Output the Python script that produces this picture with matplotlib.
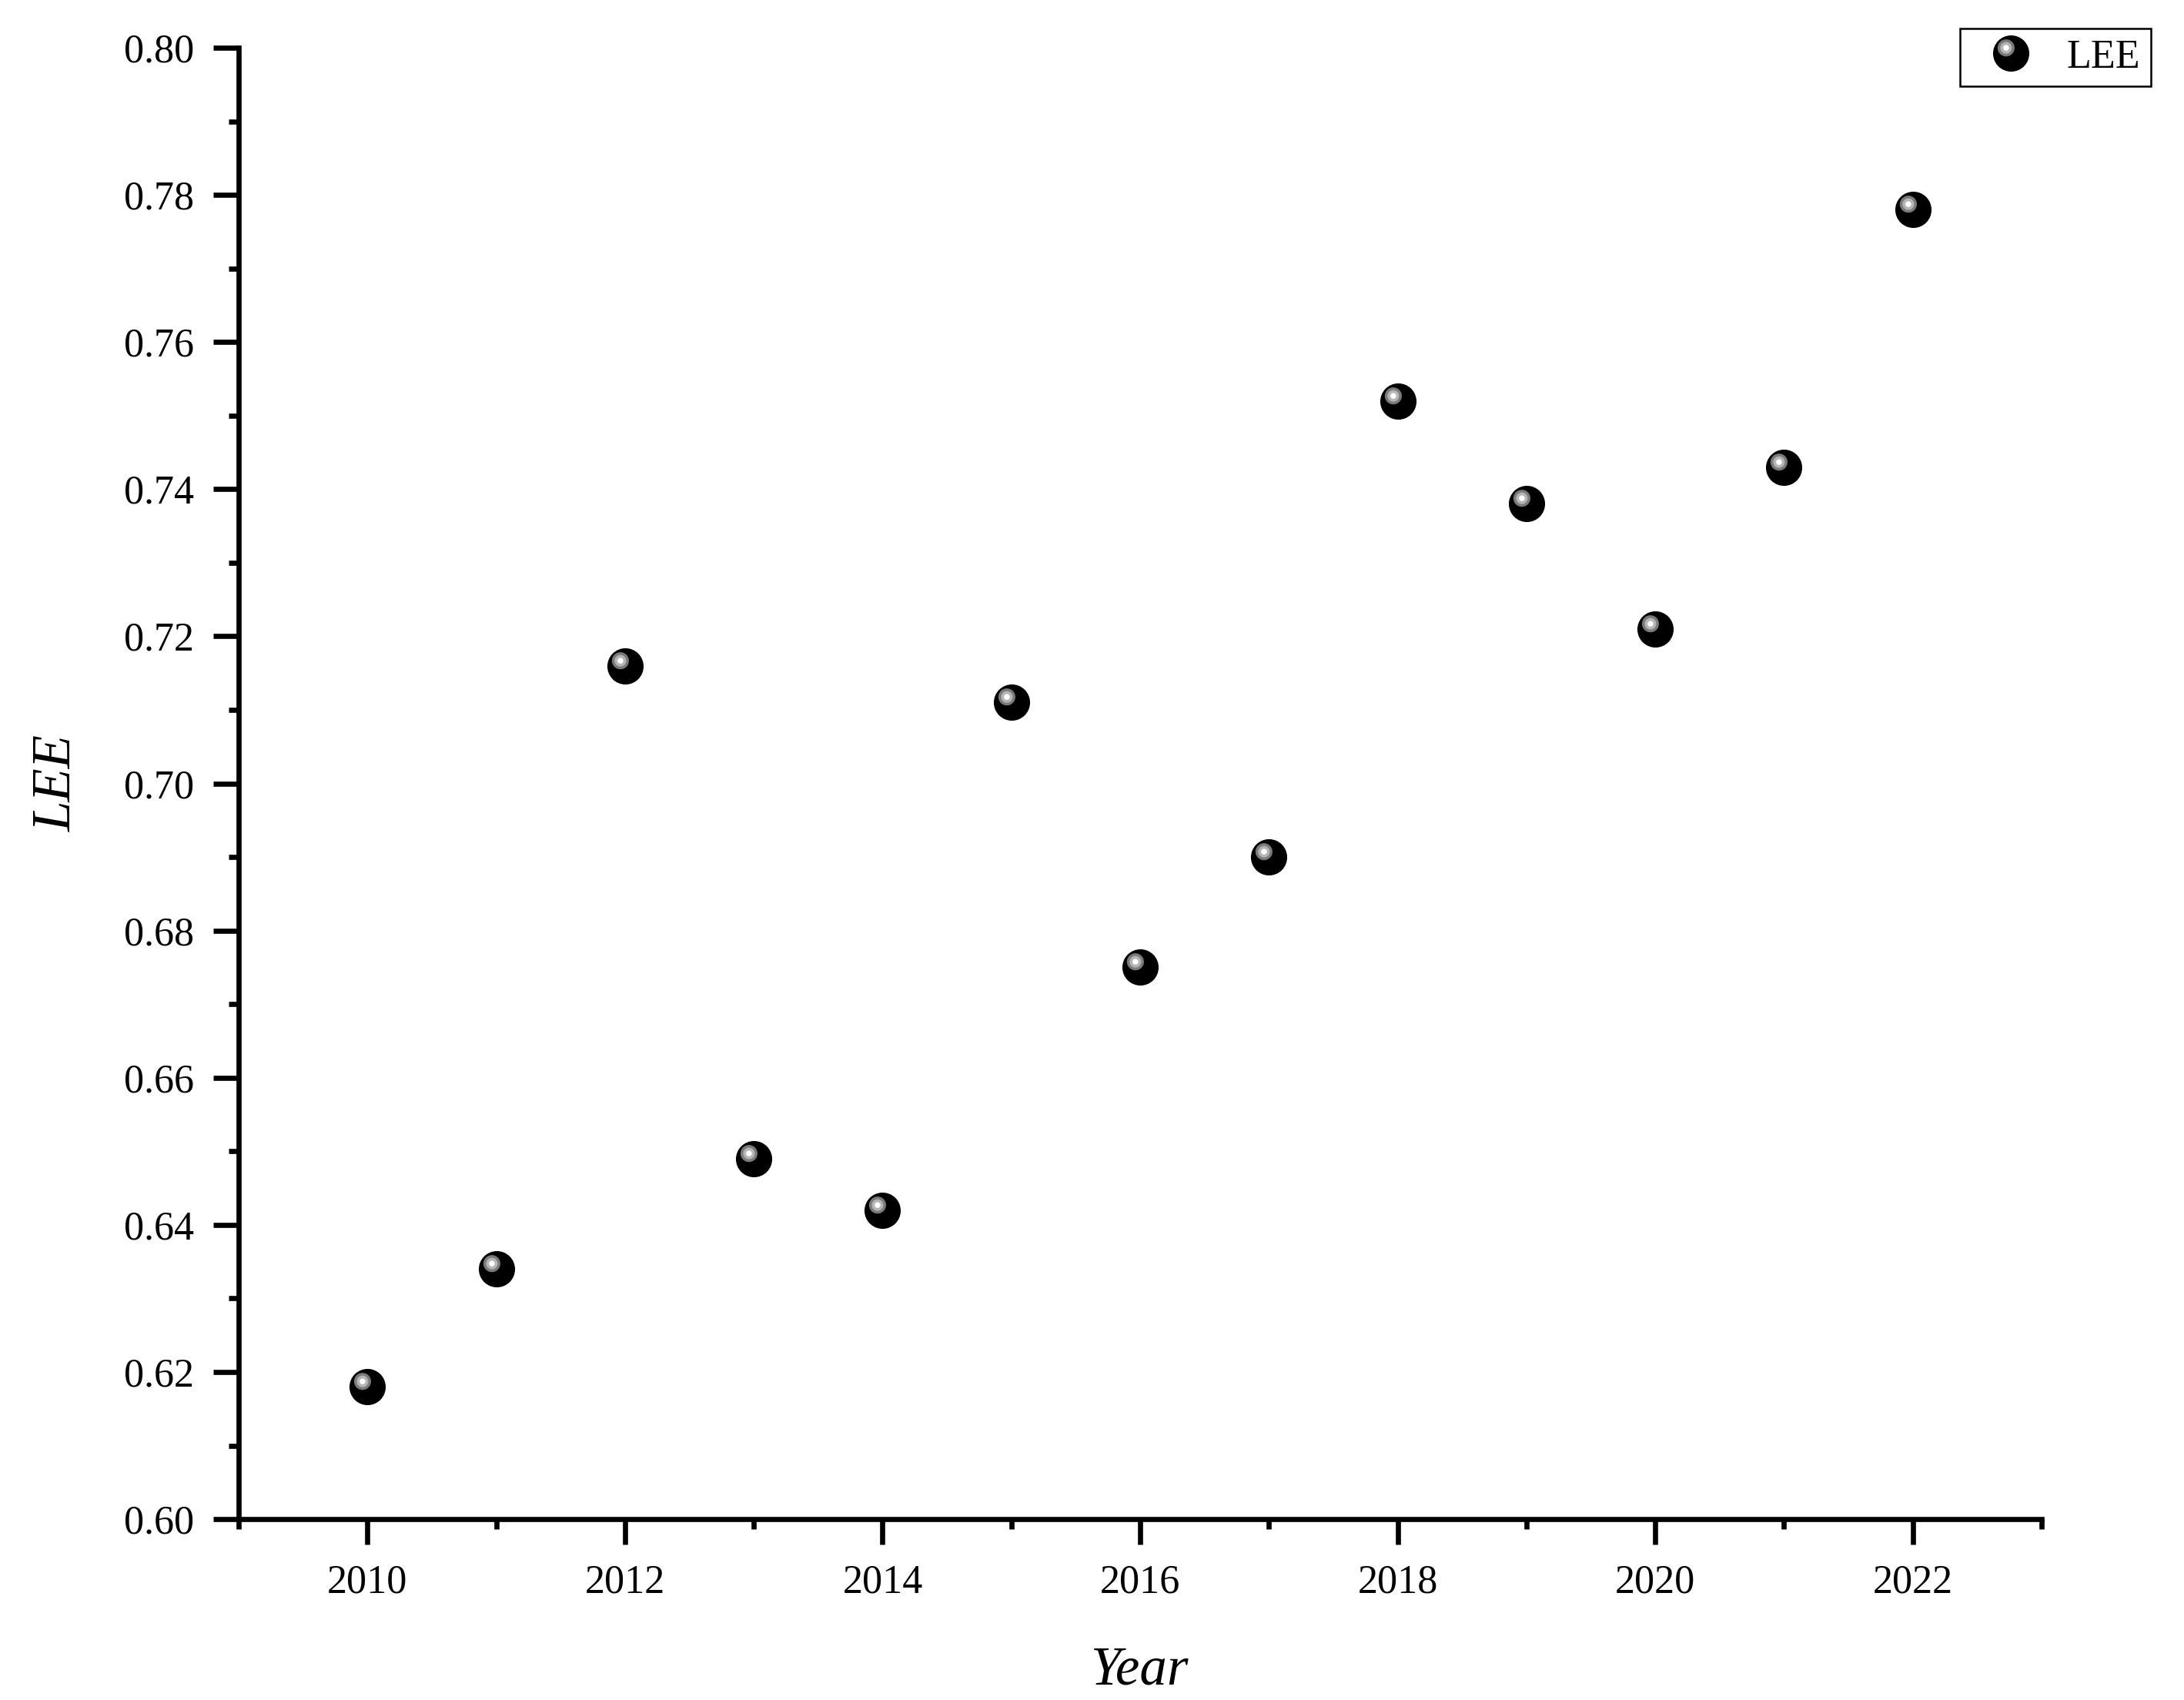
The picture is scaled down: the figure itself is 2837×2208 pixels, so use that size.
import glob
import numpy as np
import matplotlib
matplotlib.use('Agg')
from matplotlib import pyplot as plt
from matplotlib import font_manager
from matplotlib.path import Path
from matplotlib.legend_handler import HandlerTuple
from matplotlib.ticker import MultipleLocator, FormatStrFormatter

years = [2010, 2011, 2012, 2013, 2014, 2015, 2016, 2017, 2018, 2019, 2020, 2021, 2022]
lee = [0.618, 0.634, 0.716, 0.649, 0.642, 0.711, 0.675, 0.690, 0.752, 0.738, 0.721, 0.743, 0.778]
series_name = 'LEE'

# Times-like serif
for f in glob.glob('/usr/share/fonts/**/LiberationSerif*.ttf', recursive=True):
    font_manager.fontManager.addfont(f)
plt.rcParams['font.family'] = ['Liberation Serif', 'DejaVu Serif']

# ball marker: black disc with a small off-centre highlight
def spot(r):
    corners = Path([(-1, -1), (1, 1)], [Path.MOVETO, Path.MOVETO])
    c = Path.circle((-0.28, 0.31), r)
    return Path.make_compound_path(corners, c)

ms = 11.3
fig = plt.figure(figsize=(2837/300, 2208/300), dpi=300)
ax = fig.add_axes([0.1093, 0.1064, 0.9348-0.1093, 0.9719-0.1064])

layers = [('o', 'black'),
          (spot(0.47), '#7a7a7a'),
          (spot(0.32), '#b5b5b5'),
          (spot(0.16), 'white')]
handles = []
for m, col in layers:
    h, = ax.plot(years, lee, linestyle='none', marker=m, markersize=ms,
                 markerfacecolor=col, markeredgewidth=0, zorder=3, clip_on=False)
    handles.append(h)

ax.set_xlim(2009, 2023)
ax.set_ylim(0.60, 0.80)
ax.set_xticks([2010, 2012, 2014, 2016, 2018, 2020, 2022])
ax.xaxis.set_minor_locator(MultipleLocator(1))
ax.yaxis.set_major_locator(MultipleLocator(0.02))
ax.yaxis.set_minor_locator(MultipleLocator(0.01))
ax.yaxis.set_major_formatter(FormatStrFormatter('%.2f'))

for s in ['top', 'right']:
    ax.spines[s].set_visible(False)
for s in ['left', 'bottom']:
    ax.spines[s].set_linewidth(1.6)

ax.tick_params(which='major', direction='out', length=8, width=1.6, labelsize=12.5, pad=6)
ax.tick_params(which='minor', direction='out', length=3.2, width=1.6)

ax.set_xlabel('Year', fontsize=17, style='italic', labelpad=14)
ax.set_ylabel('LEE', fontsize=17, style='italic', labelpad=13)

leg = fig.legend([tuple(handles)], [series_name],
                 handler_map={tuple: HandlerTuple(ndivide=1, pad=0)},
                 loc='upper right', bbox_to_anchor=(2794/2837, 1-37/2208),
                 bbox_transform=fig.transFigure, borderaxespad=0, fontsize=12.5,
                 fancybox=False, framealpha=1, edgecolor='black', numpoints=1,
                 handlelength=2.0, handletextpad=0.4, borderpad=0.26)
leg.get_frame().set_linewidth(0.6)

fig.savefig('out.png', dpi=300)
